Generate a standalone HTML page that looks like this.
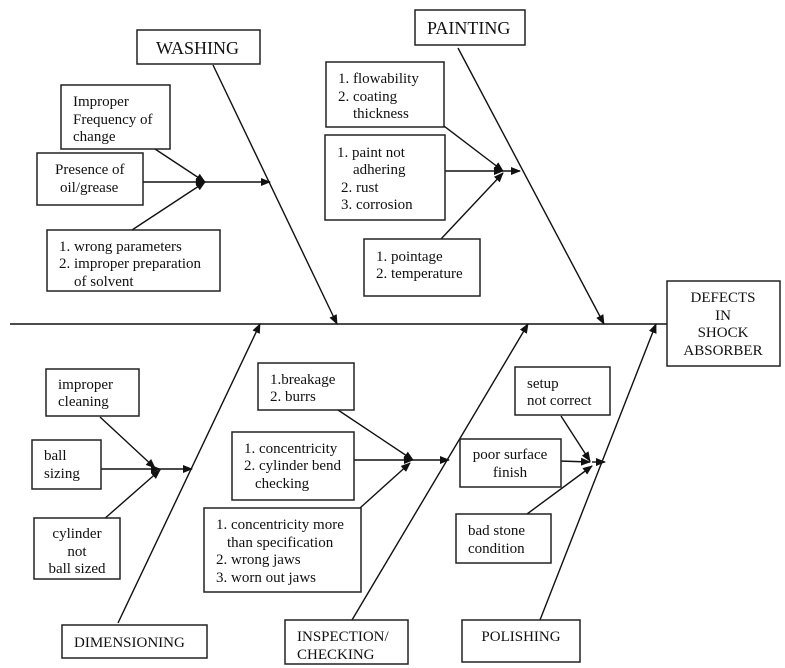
<!DOCTYPE html>
<html><head><meta charset="utf-8"><style>
html,body{margin:0;padding:0;background:#fff;}
svg{display:block;}
text{font-family:"Liberation Serif",serif;font-size:15px;fill:#111;}
rect{fill:#fff;stroke:#222;stroke-width:1.5;}
line{stroke:#111;stroke-width:1.4;}
</style></head><body>
<svg width="785" height="668" viewBox="0 0 785 668" xmlns="http://www.w3.org/2000/svg">
<defs>
<marker id="a" markerWidth="10" markerHeight="8" refX="9" refY="4" orient="auto" markerUnits="userSpaceOnUse">
<path d="M0,0 L10,4 L0,8 z" fill="#111"/></marker>
</defs>
<line x1="10" y1="324" x2="667" y2="324"/>
<line x1="213" y1="65" x2="337" y2="324" marker-end="url(#a)"/>
<line x1="458" y1="48" x2="604" y2="324" marker-end="url(#a)"/>
<line x1="118" y1="623" x2="260" y2="324" marker-end="url(#a)"/>
<line x1="352" y1="620" x2="528" y2="324" marker-end="url(#a)"/>
<line x1="540" y1="620" x2="656" y2="324" marker-end="url(#a)"/>

<line x1="155" y1="149" x2="205" y2="182" marker-end="url(#a)"/>
<line x1="141" y1="182" x2="205" y2="182" marker-end="url(#a)"/>
<line x1="132" y1="230" x2="205" y2="182" marker-end="url(#a)"/>
<line x1="205" y1="182" x2="270" y2="182" marker-end="url(#a)"/>
<line x1="440" y1="123" x2="503" y2="171" marker-end="url(#a)"/>
<line x1="444" y1="171" x2="503" y2="171" marker-end="url(#a)"/>
<line x1="441" y1="239" x2="503" y2="173" marker-end="url(#a)"/>
<line x1="503" y1="171" x2="520" y2="171" marker-end="url(#a)"/>
<line x1="100" y1="417" x2="155" y2="468" marker-end="url(#a)"/>
<line x1="101" y1="469" x2="160" y2="469" marker-end="url(#a)"/>
<line x1="103" y1="520" x2="160" y2="470" marker-end="url(#a)"/>
<line x1="160" y1="469" x2="192" y2="469" marker-end="url(#a)"/>
<line x1="338" y1="410" x2="413" y2="460" marker-end="url(#a)"/>
<line x1="354" y1="460" x2="413" y2="460" marker-end="url(#a)"/>
<line x1="360" y1="508" x2="410" y2="463" marker-end="url(#a)"/>
<line x1="413" y1="460" x2="449" y2="460" marker-end="url(#a)"/>
<line x1="561" y1="416" x2="590" y2="461" marker-end="url(#a)"/>
<line x1="559" y1="461" x2="590" y2="462" marker-end="url(#a)"/>
<line x1="527" y1="514" x2="592" y2="466" marker-end="url(#a)"/>
<line x1="592" y1="462" x2="605" y2="462" marker-end="url(#a)"/>

<rect x="137" y="30" width="123" height="34"/><text x="156" y="54" style="font-size:18px">WASHING</text>
<rect x="61" y="85" width="109" height="64"/>
<text x="73" y="106">Improper</text><text x="73" y="124">Frequency of</text><text x="73" y="141">change</text>
<rect x="37" y="153" width="106" height="52"/>
<text x="55" y="174">Presence of</text><text x="60" y="192">oil/grease</text>
<rect x="47" y="230" width="173" height="61"/>
<text x="59" y="251">1. wrong parameters</text><text x="59" y="268">2. improper preparation</text><text x="74" y="286">of solvent</text>

<rect x="415" y="10" width="110" height="35"/><text x="427" y="34" style="font-size:18px">PAINTING</text>
<rect x="326" y="62" width="118" height="65"/>
<text x="338" y="83">1. flowability</text><text x="338" y="101">2. coating</text><text x="353" y="118">thickness</text>
<rect x="325" y="135" width="120" height="85"/>
<text x="337" y="157">1. paint not</text><text x="353" y="174">adhering</text><text x="341" y="192">2. rust</text><text x="341" y="209">3. corrosion</text>
<rect x="364" y="239" width="116" height="57"/>
<text x="376" y="261">1. pointage</text><text x="376" y="278">2. temperature</text>

<rect x="667" y="281" width="113" height="85"/>
<text x="723" y="302" text-anchor="middle">DEFECTS</text><text x="723" y="320" text-anchor="middle">IN</text>
<text x="723" y="337" text-anchor="middle">SHOCK</text><text x="723" y="355" text-anchor="middle">ABSORBER</text>

<rect x="46" y="369" width="93" height="47"/>
<text x="58" y="389">improper</text><text x="58" y="406">cleaning</text>
<rect x="32" y="440" width="69" height="49"/>
<text x="44" y="460">ball</text><text x="44" y="478">sizing</text>
<rect x="34" y="518" width="86" height="61"/>
<text x="77" y="538" text-anchor="middle">cylinder</text><text x="77" y="556" text-anchor="middle">not</text><text x="77" y="573" text-anchor="middle">ball sized</text>
<rect x="62" y="625" width="145" height="33"/><text x="74" y="647">DIMENSIONING</text>

<rect x="258" y="363" width="96" height="47"/>
<text x="270" y="384">1.breakage</text><text x="270" y="401">2. burrs</text>
<rect x="232" y="432" width="122" height="68"/>
<text x="244" y="453">1. concentricity</text><text x="244" y="470">2. cylinder bend</text><text x="255" y="488">checking</text>
<rect x="204" y="508" width="157" height="84"/>
<text x="216" y="529">1. concentricity more</text><text x="227" y="547">than specification</text><text x="216" y="564">2. wrong jaws</text><text x="216" y="582">3. worn out jaws</text>
<rect x="285" y="620" width="123" height="44"/>
<text x="297" y="641">INSPECTION/</text><text x="297" y="659">CHECKING</text>

<rect x="515" y="367" width="95" height="48"/>
<text x="527" y="388">setup</text><text x="527" y="405">not correct</text>
<rect x="460" y="439" width="101" height="48"/>
<text x="510" y="459" text-anchor="middle">poor surface</text><text x="510" y="477" text-anchor="middle">finish</text>
<rect x="456" y="514" width="95" height="49"/>
<text x="468" y="535">bad stone</text><text x="468" y="553">condition</text>
<rect x="462" y="620" width="118" height="42"/><text x="521" y="641" text-anchor="middle">POLISHING</text>
</svg>
</body></html>
